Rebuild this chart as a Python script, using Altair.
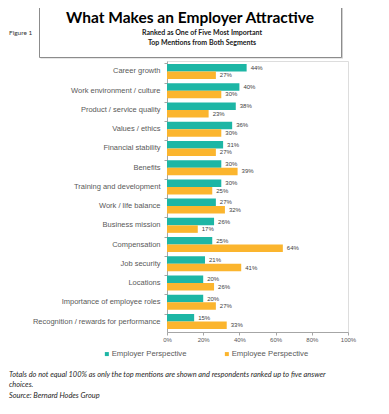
import altair as alt
import pandas as pd

categories = ["Career growth", "Work environment / culture", "Product / service quality",
              "Values / ethics", "Financial stability", "Benefits", "Training and development",
              "Work / life balance", "Business mission", "Compensation", "Job security",
              "Locations", "Importance of employee roles", "Recognition / rewards for performance"]
employer = [44, 40, 38, 36, 31, 30, 30, 27, 26, 25, 21, 20, 20, 15]
employee = [27, 30, 23, 30, 27, 39, 25, 32, 17, 64, 41, 26, 27, 33]
series = ["Employer Perspective", "Employee Perspective"]
colors = ["#1DB6A5", "#FBB52E"]
x_ticks = [0, 0.2, 0.4, 0.6, 0.8, 1.0]

title_text = "What Makes an Employer Attractive"
subtitle_lines = ["Ranked as One of Five Most Important", "Top Mentions from Both Segments"]
figure_label = "Figure 1"
footnotes = ["Totals do not equal 100% as only the top mentions are shown and respondents ranked up to five answer",
             "choices.",
             "Source: Bernard Hodes Group"]

rows = []
for c, a, b in zip(categories, employer, employee):
    rows.append({"category": c, "series": series[0], "value": a / 100})
    rows.append({"category": c, "series": series[1], "value": b / 100})
df = pd.DataFrame(rows)

y_enc = alt.Y("category:N", sort=categories,
              scale=alt.Scale(paddingInner=0.22, paddingOuter=0.155),
              axis=alt.Axis(title=None, labelFontSize=7.5, labelColor="#595959",
                            labelFont="Liberation Sans", labelPadding=4, tickSize=3,
                            ticks=True, bandPosition=0, tickColor="#A6A6A6",
                            domainColor="#A6A6A6", labelLimit=200))
yoff = alt.YOffset("series:N", sort=series, scale=alt.Scale(paddingInner=0, paddingOuter=0))
x_enc = alt.X("value:Q", scale=alt.Scale(domain=[0, 1], nice=False),
              axis=alt.Axis(title=None, format=".0%", values=x_ticks, grid=False,
                            labelFontSize=6, labelColor="#595959", labelFont="Liberation Sans",
                            tickSize=3, tickColor="#A6A6A6", domainColor="#A6A6A6",
                            labelPadding=1, labelOverlap=False, labelFlush=False,
                            labelBound=False))

bars = alt.Chart(df).mark_bar().encode(
    y=y_enc, yOffset=yoff, x=x_enc,
    color=alt.Color("series:N", sort=series,
                    scale=alt.Scale(domain=series, range=colors),
                    legend=alt.Legend(title=None, orient="none", legendX=-64, legendY=289,
                                      direction="horizontal", columns=2, columnPadding=36,
                                      symbolType="square", symbolSize=16, symbolStrokeWidth=0,
                                      labelFontSize=7.7, labelColor="#595959",
                                      labelFont="Liberation Sans", labelOffset=1, padding=0)),
)
labels = alt.Chart(df).mark_text(align="left", baseline="middle", dx=4, fontSize=6,
                                 font="Liberation Sans", color="#404040").encode(
    y=y_enc, yOffset=yoff, x=x_enc,
    text=alt.Text("value:Q", format=".0%"),
)

one = pd.DataFrame({"k": [0]})
shadow = alt.Chart(one).mark_rect(fill="#D0D0D0").encode(
    x=alt.value(-126.5), x2=alt.value(176), y=alt.value(-55.5), y2=alt.value(-2.5))
box = alt.Chart(one).mark_rect(fill="white", stroke="#8C8C8C", strokeWidth=1).encode(
    x=alt.value(-127.5), x2=alt.value(174.5), y=alt.value(-56.5), y2=alt.value(-3.5))
title = alt.Chart(one).mark_text(font="Lato", fontWeight="bold", fontSize=15.5, color="#000000",
                                 align="center", baseline="alphabetic").encode(
    x=alt.value(23), y=alt.value(-38.5), text=alt.value(title_text))
sub1 = alt.Chart(one).mark_text(font="Lato", fontWeight="bold", fontSize=7, color="#1a1a1a",
                                align="center", baseline="alphabetic").encode(
    x=alt.value(35), y=alt.value(-26.5), text=alt.value(subtitle_lines[0]))
sub2 = alt.Chart(one).mark_text(font="Lato", fontWeight="bold", fontSize=7, color="#1a1a1a",
                                align="center", baseline="alphabetic").encode(
    x=alt.value(35), y=alt.value(-16.5), text=alt.value(subtitle_lines[1]))
fig = alt.Chart(one).mark_text(font="Lato", fontSize=6.5, color="#333333",
                               align="left", baseline="alphabetic").encode(
    x=alt.value(-158), y=alt.value(-26), text=alt.value(figure_label))
fn_layers = []
for txt, yy in zip(footnotes, [315.5, 326, 337]):
    fn_layers.append(alt.Chart(one).mark_text(font="Lato", fontStyle="italic", fontSize=7.4,
                                              color="#262626", align="left",
                                              baseline="alphabetic").encode(
        x=alt.value(-158), y=alt.value(yy), text=alt.value(txt)))

chart = alt.layer(bars, labels, shadow, box, title, sub1, sub2, fig, *fn_layers).properties(
    width=181, height=271,
    autosize=alt.AutoSizeParams(type="none"),
    padding={"left": 159, "top": 53, "right": 25, "bottom": 70},
).configure_view(stroke=None).configure(background="white")

chart.save("out.html", embed_options={"renderer": "svg", "actions": False})
